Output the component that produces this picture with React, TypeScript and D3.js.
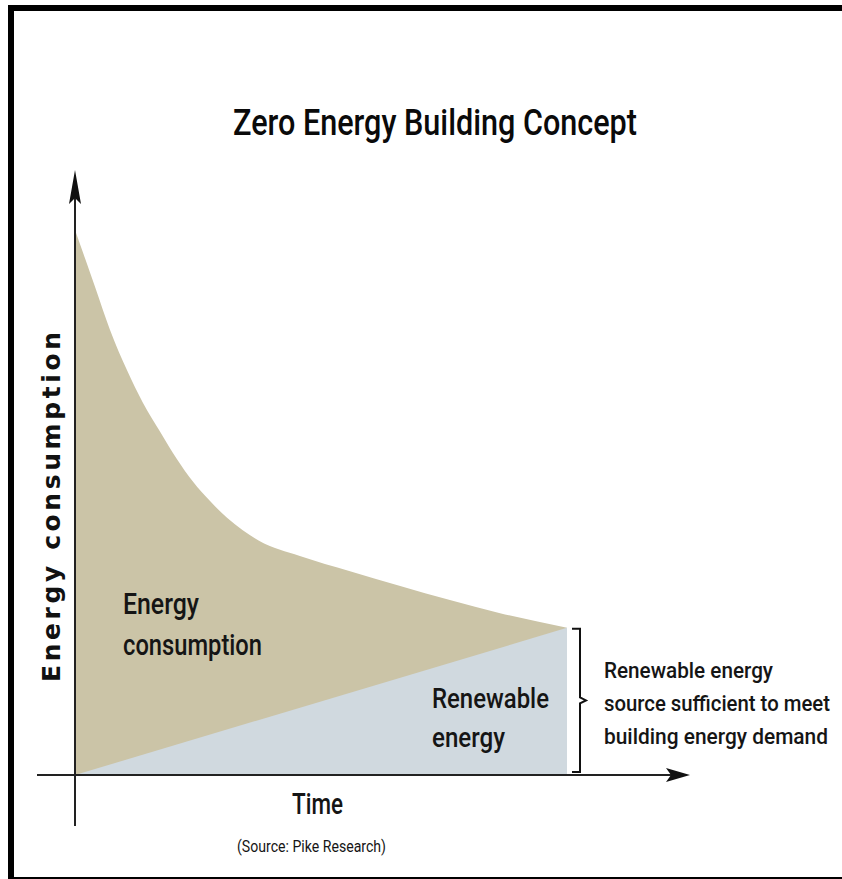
import React from 'react';
import * as d3 from 'd3';

// Data (normalised time 0..100, energy 0..100)
const timeValues = [0, 2.0, 4.1, 7.1, 10.6, 13.8, 17.3, 20.7, 24.0, 27.4, 30.9, 34.1, 37.4, 45.7, 55.9, 66.1, 76.2, 86.4, 100];
const consumptionValues = [100, 94.9, 89.5, 81.7, 74.2, 68.3, 63.0, 58.0, 53.8, 50.3, 47.2, 44.9, 43.0, 40.2, 37.4, 34.7, 32.1, 29.7, 27.0];
const renewableTime = [0, 100];
const renewableValues = [0, 27.0];

const title = 'Zero Energy Building Concept';
const yAxisLabel = 'Energy consumption';
const xAxisLabel = 'Time';
const sourceLabel = '(Source: Pike Research)';
const consumptionLabel = ['Energy', 'consumption'];
const renewableLabel = ['Renewable', 'energy'];
const bracketLabel = ['Renewable energy', 'source sufficient to meet', 'building energy demand'];

const W = 842;
const H = 879;
const TAN = '#cbc4a7';
const BLUE = '#d0d9df';
const FONT = "Roboto, Lato, 'Open Sans', sans-serif";

export default function App() {
  const x = d3.scaleLinear().domain([0, 100]).range([75, 567]);
  const y = d3.scaleLinear().domain([0, 100]).range([775, 230]);

  const consumption = timeValues.map((t, i) => ({ t, v: consumptionValues[i] }));
  const renewable = renewableTime.map((t, i) => ({ t, v: renewableValues[i] }));

  const consArea = d3
    .area<{ t: number; v: number }>()
    .x((d) => x(d.t))
    .y0(y(0))
    .y1((d) => y(d.v))
    .curve(d3.curveMonotoneX)(consumption) as string;

  const renArea = d3
    .area<{ t: number; v: number }>()
    .x((d) => x(d.t))
    .y0(y(0))
    .y1((d) => y(d.v))(renewable) as string;

  const x0 = x(0);
  const y0 = y(0);
  const xEnd = x(100);
  const yEnd = y(renewableValues[1]);

  // axis extents
  const yAxisTop = 172;
  const yAxisBottom = 826;
  const xAxisLeft = 37;
  const xAxisRight = 688;

  const bx = xEnd + 13;
  const bTop = yEnd + 1;
  const bBot = y0 - 3;
  const bMid = (bTop + bBot) / 2;

  const labelFill = '#151515';

  return (
    <svg
      width={W}
      height={H}
      style={{ position: 'absolute', left: 0, top: 0, background: '#fff' }}
    >
      <rect x={0} y={0} width={W} height={H} fill="#fff" />
      <rect x={11} y={8} width={1000} height={872} fill="none" stroke="#000" strokeWidth={6} />

      <text
        x={435}
        y={135}
        textAnchor="middle"
        fontFamily={FONT}
        fontWeight={500}
        fontSize={36}
        fill="#0a0a0a"
        textLength={404}
        lengthAdjust="spacingAndGlyphs"
      >
        {title}
      </text>

      <path d={consArea} fill={TAN} />
      <path d={renArea} fill={BLUE} />

      {/* Y axis */}
      <line x1={x0} x2={x0} y1={yAxisBottom} y2={yAxisTop + 10} stroke="#222" strokeWidth={2} />
      <path
        d={`M${x0},${yAxisTop - 2} L${x0 + 6},${yAxisTop + 32} L${x0},${yAxisTop + 26} L${x0 - 6},${yAxisTop + 32} Z`}
        fill="#111"
      />
      {/* X axis */}
      <line x1={xAxisLeft} x2={xAxisRight - 10} y1={y0} y2={y0} stroke="#222" strokeWidth={2} />
      <path
        d={`M${xAxisRight + 2},${y0} L${xAxisRight - 22},${y0 - 7} L${xAxisRight - 17},${y0} L${xAxisRight - 22},${y0 + 7} Z`}
        fill="#111"
      />

      {/* bracket */}
      <path
        d={`M${bx - 8},${bTop} L${bx},${bTop} L${bx},${bMid - 3} L${bx + 6},${bMid} L${bx},${bMid + 3} L${bx},${bBot} L${bx - 8},${bBot}`}
        fill="none"
        stroke="#111"
        strokeWidth={2}
      />

      {/* y axis label */}
      <text
        transform={`translate(60,507) rotate(-90)`}
        textAnchor="middle"
        fontFamily="'DejaVu Sans', Verdana, sans-serif"
        fontWeight="bold"
        fontSize={25}
        fill="#111"
        textLength={350}
        lengthAdjust="spacing"
      >
        {yAxisLabel}
      </text>

      {/* in-area labels */}
      <text x={123} y={614} fontFamily={FONT} fontWeight={500} fontSize={29} fill={labelFill} textLength={76} lengthAdjust="spacingAndGlyphs">
        {consumptionLabel[0]}
      </text>
      <text x={123} y={655} fontFamily={FONT} fontWeight={500} fontSize={29} fill={labelFill} textLength={139} lengthAdjust="spacingAndGlyphs">
        {consumptionLabel[1]}
      </text>
      <text x={432} y={708} fontFamily={FONT} fontWeight={500} fontSize={28} fill={labelFill} textLength={117} lengthAdjust="spacingAndGlyphs">
        {renewableLabel[0]}
      </text>
      <text x={432} y={747} fontFamily={FONT} fontWeight={500} fontSize={28} fill={labelFill} textLength={73} lengthAdjust="spacingAndGlyphs">
        {renewableLabel[1]}
      </text>

      {/* bracket label */}
      {bracketLabel.map((s, i) => (
        <text
          key={s}
          x={604}
          y={678 + i * 33}
          fontFamily={FONT}
          fontWeight={500}
          fontSize={22}
          fill={labelFill}
          textLength={[169, 226, 224][i]}
          lengthAdjust="spacingAndGlyphs"
        >
          {s}
        </text>
      ))}

      <text x={292} y={814} fontFamily={FONT} fontWeight={500} fontSize={29} fill={labelFill} textLength={51} lengthAdjust="spacingAndGlyphs">
        {xAxisLabel}
      </text>
      <text x={237} y={852} fontFamily={FONT} fontSize={17} fill={labelFill} textLength={149} lengthAdjust="spacingAndGlyphs">
        {sourceLabel}
      </text>
    </svg>
  );
}
